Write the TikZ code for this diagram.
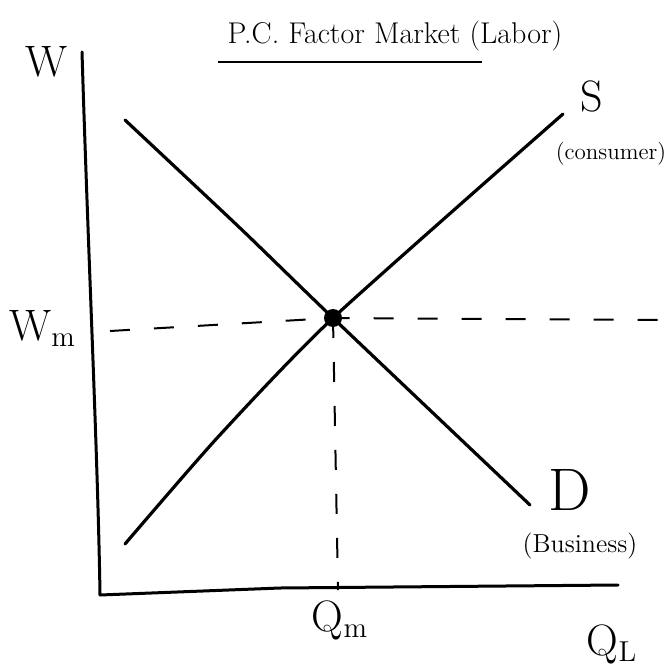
\documentclass[tikz,border=0pt]{standalone}
\usepackage{tikz}
\usetikzlibrary{positioning, arrows.meta}

\begin{document}
\begin{tikzpicture}[
  x=0.5pt, y=-0.5pt,
  >=Stealth,
  curve/.style={line width=1.6pt, line cap=round, line join=round},
  axis/.style={line width=1.5pt, line cap=round, line join=round},
  guide/.style={line width=1pt, dash pattern=on 10pt off 12pt},
  biglabel/.style={font=\fontsize{22}{26}\selectfont, inner sep=0pt},
  smalllabel/.style={font=\fontsize{11.5}{14}\selectfont, inner sep=0pt}
]
  \useasboundingbox (0,0) rectangle (667,668);

  % title
  \node[font=\fontsize{15}{18}\selectfont, inner sep=0pt] (title) at (395,36) {P.C. Factor Market (Labor)};
  \coordinate (ul1) at (218,62);
  \coordinate (ul2) at (482,62);
  \draw[line width=1pt] (ul1) -- (ul2);

  % axes
  \coordinate (ytop) at (82,52);
  \coordinate (origin) at (100,595);
  \coordinate (xa) at (280,588);
  \coordinate (xend) at (618,585);
  \draw[axis] (ytop) .. controls (88,250) and (98,460) .. (origin) -- (xa) -- (xend);

  % curves
  \coordinate (eq) at (333,318);
  \coordinate (dtop) at (125,120);
  \coordinate (da) at (240,228);
  \coordinate (dbot) at (530,505);
  \coordinate (sbot) at (125,544);
  \coordinate (sa) at (218,437);
  \coordinate (stop) at (563,114);
  \draw[curve] plot[smooth, tension=0.4] coordinates {(dtop) (da) (eq) (dbot)};
  \draw[curve] plot[smooth, tension=0.4] coordinates {(sbot) (sa) (eq) (stop)};

  % equilibrium
  \coordinate (wm) at (110,331);
  \coordinate (wend) at (667,320);
  \coordinate (qm) at (338,590);
  \draw[guide] (wm) -- (eq) -- (wend);
  \draw[guide] (eq) -- (qm);
  \fill (eq) circle (4.5pt);

  % labels
  \node[biglabel] (W) at (47,62) {W};
  \node[biglabel, anchor=base west] (Wm) at (9,340) {W$_{\mathrm{m}}$};
  \node[biglabel] (S) at (592,96) {S};
  \node[smalllabel] (cons) at (611,154) {(consumer)};
  \node[biglabel, font=\fontsize{30}{34}\selectfont] (D) at (570,490) {D};
  \node[smalllabel, font=\fontsize{13}{16}\selectfont] (bus) at (580,546) {(Business)};
  \node[biglabel] (Qm) at (340,620) {Q$_{\mathrm{m}}$};
  \node[biglabel] (QL) at (612,644) {Q$_{\mathrm{L}}$};
\end{tikzpicture}
\end{document}
